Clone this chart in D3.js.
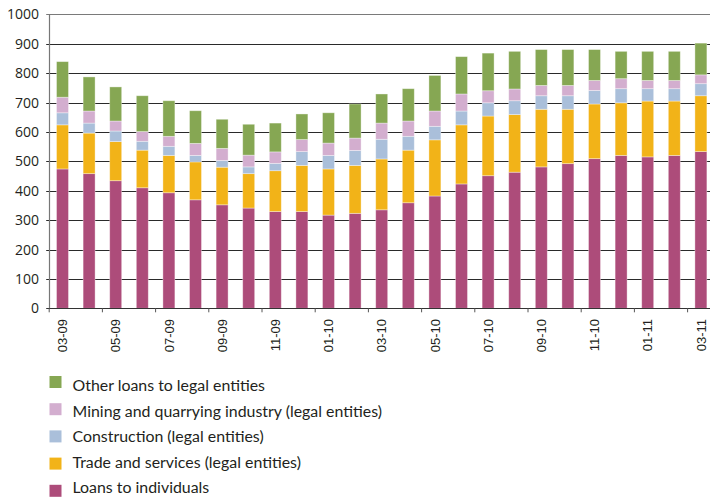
<!DOCTYPE html>
<html>
<head>
<meta charset="utf-8">
<script src="https://cdn.jsdelivr.net/npm/d3@7/dist/d3.min.js"></script>
<style>
  html, body { margin: 0; padding: 0; background: #fff; }
  svg { display: block; overflow: visible; }
</style>
</head>
<body>
<svg id="chart" width="710" height="497"></svg>
<script>
// Monthly periods (MM-YY)
const months = [
  "03-09","04-09","05-09","06-09","07-09","08-09","09-09","10-09","11-09","12-09",
  "01-10","02-10","03-10","04-10","05-10","06-10","07-10","08-10","09-10","10-10",
  "11-10","12-10","01-11","02-11","03-11"
];

// Loan volumes by segment
const loansIndividuals = [474,458,434,410,393,369,352,341,329,329,317,323,335,359,382,423,451,463,481,492,509,520,515,520,533];
const tradeServices    = [150,138,133,128,127,129,128,117,139,157,157,163,173,179,191,201,203,196,196,185,186,179,190,185,190];
const construction     = [ 41, 34, 36, 30, 31, 22, 23, 23, 25, 47, 46, 51, 67, 47, 46, 47, 45, 47, 46, 46, 46, 48, 42, 42, 41];
const miningQuarrying  = [ 53, 41, 34, 33, 34, 41, 41, 40, 39, 41, 42, 42, 55, 52, 52, 58, 41, 40, 35, 35, 34, 34, 28, 28, 30];
const otherLegal       = [121,116,116,122,121,111, 99,105, 98, 87,103,116, 99,110,121,127,128,128,122,122,105, 93, 99, 99,108];

// Stack order bottom -> top
const seriesKeys = ["individuals","trade","construction","mining","other"];
const seriesNames = {
  individuals: "Loans to individuals",
  trade: "Trade and services (legal entities)",
  construction: "Construction (legal entities)",
  mining: "Mining and quarrying industry (legal entities)",
  other: "Other loans to legal entities"
};
const seriesColors = {
  individuals: "#AD4C7A",
  trade: "#F2B318",
  construction: "#AABFDA",
  mining: "#D3AECF",
  other: "#86A753"
};
const yTicks = [0,100,200,300,400,500,600,700,800,900,1000];

const rows = months.map((m, i) => ({
  month: m,
  individuals: loansIndividuals[i],
  trade: tradeServices[i],
  construction: construction[i],
  mining: miningQuarrying[i],
  other: otherLegal[i]
}));

const svg = d3.select("#chart");
const plotLeft = 49.2, step = 26.6;
const plotRight = plotLeft + step * months.length;
const plotTop = 14.3, plotBottom = 308.3;

const x = d3.scaleBand().domain(months).range([plotLeft, plotRight])
  .paddingInner(0.55).paddingOuter(0.275);
const y = d3.scaleLinear().domain([0, 1000]).range([plotBottom, plotTop]);

// Horizontal gridlines
svg.append("g").selectAll("line").data(yTicks.filter(d => d > 0)).join("line")
  .attr("x1", plotLeft - 3).attr("x2", 712)
  .attr("y1", d => Math.round(y(d)) + 0.5).attr("y2", d => Math.round(y(d)) + 0.5)
  .attr("stroke", d => d === 1000 ? "#7a7a7a" : "#2a2a2a")
  .attr("stroke-width", 1);

// Stacked bars
const stacked = d3.stack().keys(seriesKeys)(rows);
svg.append("g").selectAll("g").data(stacked).join("g")
  .attr("fill", s => seriesColors[s.key])
  .selectAll("rect").data(s => s).join("rect")
  .attr("x", d => x(d.data.month))
  .attr("width", x.bandwidth())
  .attr("y", d => y(d[1]))
  .attr("height", d => y(d[0]) - y(d[1]))
  .attr("stroke", "rgba(255,255,255,0.45)")
  .attr("stroke-width", 0.8);

// Y axis line and labels
svg.append("line")
  .attr("x1", Math.round(plotLeft) + 0.5).attr("x2", Math.round(plotLeft) + 0.5)
  .attr("y1", plotTop).attr("y2", plotBottom)
  .attr("stroke", "#777").attr("stroke-width", 1.2);

svg.append("g").selectAll("text").data(yTicks).join("text")
  .attr("x", 39).attr("y", d => y(d))
  .attr("dy", "0.36em")
  .attr("text-anchor", "end")
  .attr("font-family", "'Open Sans', sans-serif")
  .attr("font-size", 14)
  .attr("fill", "#231F20")
  .text(d => d);

// X axis line and ticks every two months
svg.append("line")
  .attr("x1", plotLeft - 3).attr("x2", 712)
  .attr("y1", Math.round(plotBottom) + 0.5).attr("y2", Math.round(plotBottom) + 0.5)
  .attr("stroke", "#333").attr("stroke-width", 1.2);

const tickIdx = d3.range(0, months.length + 1, 2);
svg.append("g").selectAll("line").data(tickIdx).join("line")
  .attr("x1", i => x.step() * i + plotLeft).attr("x2", i => x.step() * i + plotLeft)
  .attr("y1", plotBottom).attr("y2", plotBottom + 4)
  .attr("stroke", "#555").attr("stroke-width", 1);

const labelled = months.filter((m, i) => i % 2 === 0);
svg.append("g").selectAll("text").data(labelled).join("text")
  .attr("transform", m => `translate(${x(m) + x.bandwidth() / 2},319) rotate(-90)`)
  .attr("text-anchor", "end")
  .attr("dy", "0.36em")
  .attr("font-family", "'Liberation Sans', Arial, sans-serif")
  .attr("font-size", 13)
  .attr("fill", "#231F20")
  .text(m => m);

// Legend (top to bottom: reverse stack order)
const legendKeys = seriesKeys.slice().reverse();
const lg = svg.append("g").selectAll("g").data(legendKeys).join("g");
lg.append("rect")
  .attr("x", 49.5).attr("y", (k, i) => 376 + i * 27.2)
  .attr("width", 12).attr("height", 12)
  .attr("fill", k => seriesColors[k]);
lg.append("text")
  .attr("x", 72.5).attr("y", (k, i) => 391 + i * 25.6)
  .attr("font-family", "Lato, 'Open Sans', sans-serif")
  .attr("font-size", 15.9)
  .attr("fill", "#231F20")
  .text(k => seriesNames[k]);
</script>
</body>
</html>
